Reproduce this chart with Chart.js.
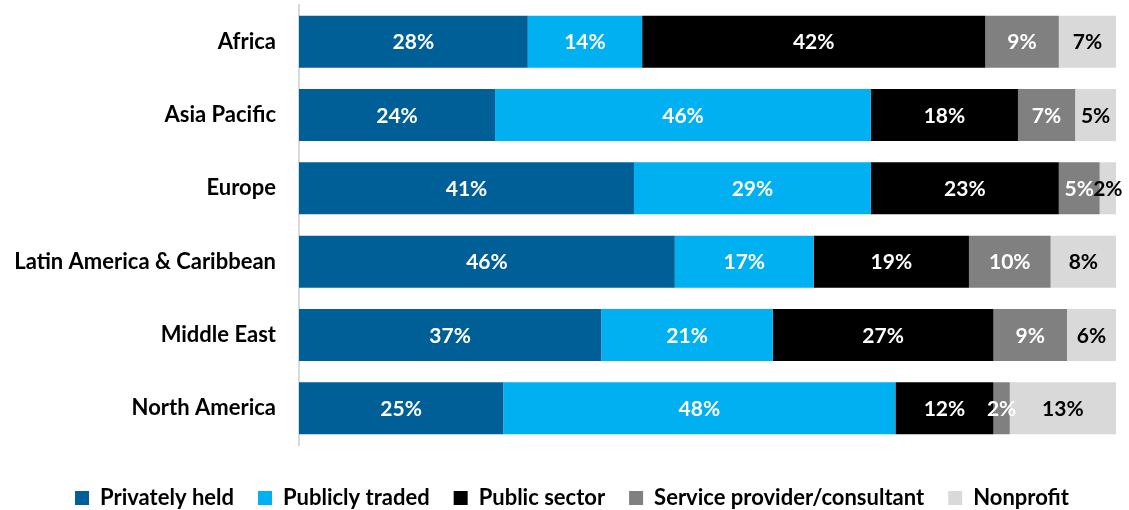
<!DOCTYPE html>
<html>
<head>
<meta charset="utf-8">
<script src="https://cdn.jsdelivr.net/npm/chart.js@4.4.1/dist/chart.umd.min.js"></script>
<style>
  html, body { margin: 0; padding: 0; background: #fff; }
  #wrap { width: 1129px; height: 510px; }
</style>
</head>
<body>
<div id="wrap"><canvas id="barChart"></canvas></div>
<script>
// data
const regions = ['Africa', 'Asia Pacific', 'Europe', 'Latin America & Caribbean', 'Middle East', 'North America'];
const privatelyHeld = [28, 24, 41, 46, 37, 25];
const publiclyTraded = [14, 46, 29, 17, 21, 48];
const publicSector = [42, 18, 23, 19, 27, 12];
const serviceProvider = [9, 7, 5, 10, 9, 2];
const nonprofit = [7, 5, 2, 8, 6, 13];

const fontFamily = 'Lato, "Open Sans", sans-serif';

// draw the % labels in the middle of each segment
const segmentLabels = {
    id: 'segmentLabels',
    afterDatasetsDraw(chart) {
        const ctx = chart.ctx;
        ctx.save();
        ctx.font = `bold 21px ${fontFamily}`;
        ctx.textAlign = 'center';
        ctx.textBaseline = 'middle';
        chart.data.datasets.forEach((ds, i) => {
            const meta = chart.getDatasetMeta(i);
            meta.data.forEach((bar, j) => {
                const mid = (bar.x + bar.base) / 2;
                ctx.fillStyle = ds.labelColor;
                ctx.fillText(ds.data[j] + '%', mid, bar.y + 1);
            });
        });
        ctx.restore();
    }
};

// fixed legend height, and nudge it right so it sits like the reference
const legendPlacement = {
    id: 'legendPlacement',
    beforeLayout(chart) {
        const legend = chart.legend;
        if (legend && !legend._patched) {
            const fit = legend.fit;
            legend.fit = function () {
                fit.call(this);
                this.height = 47;
            };
            legend._patched = true;
        }
    },
    afterLayout(chart) {
        chart.legend.left += 14;
        chart.legend.right += 14;
    }
};

const data = {
    labels: regions,
    datasets: [{
        label: 'Privately held',
        data: privatelyHeld,
        backgroundColor: '#015f97',
        labelColor: '#ffffff'
    }, {
        label: 'Publicly traded',
        data: publiclyTraded,
        backgroundColor: '#00b0f0',
        labelColor: '#ffffff'
    }, {
        label: 'Public sector',
        data: publicSector,
        backgroundColor: '#000000',
        labelColor: '#ffffff'
    }, {
        label: 'Service provider/consultant',
        data: serviceProvider,
        backgroundColor: '#808080',
        labelColor: '#ffffff'
    }, {
        label: 'Nonprofit',
        data: nonprofit,
        backgroundColor: '#d9d9d9',
        labelColor: '#000000'
    }]
};

const config = {
    type: 'bar',
    data: data,
    options: {
        indexAxis: 'y',
        responsive: true,
        maintainAspectRatio: false,
        animation: false,
        categoryPercentage: 1,
        barPercentage: 0.71,
        layout: { padding: { top: 5, right: 13, left: 0, bottom: 0 } },
        scales: {
            x: {
                stacked: true,
                min: 0,
                max: 100,
                grid: { display: false },
                border: { display: false },
                ticks: { display: false },
                afterFit: s => { s.height = 18; }
            },
            y: {
                stacked: true,
                grid: { display: false },
                border: { color: '#d9d9d9', width: 2 },
                ticks: {
                    color: '#000',
                    padding: 15,
                    font: { family: fontFamily, size: 22, weight: 'bold' }
                },
                afterFit: s => {
                    s.width = 299;
                    s.paddingTop = 0;
                    s.paddingBottom = 0;
                }
            }
        },
        plugins: {
            tooltip: { enabled: false },
            legend: {
                position: 'bottom',
                labels: {
                    color: '#000',
                    boxWidth: 14,
                    boxHeight: 14,
                    padding: 24,
                    font: { family: fontFamily, size: 22, weight: 'bold' }
                }
            }
        }
    },
    plugins: [segmentLabels, legendPlacement]
};

const myChart = new Chart(document.getElementById('barChart'), config);
</script>
</body>
</html>
